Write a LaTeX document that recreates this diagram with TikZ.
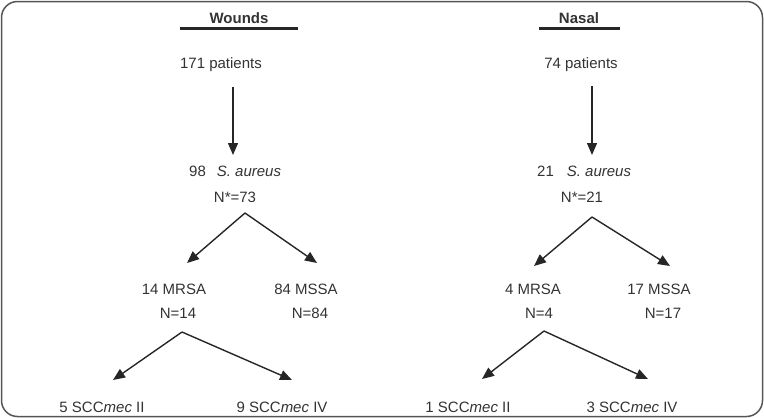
\documentclass[tikz,border=0pt]{standalone}
\usepackage{fontspec}
\setmainfont{Liberation Sans}
\usetikzlibrary{arrows.meta}
\definecolor{textgray}{HTML}{333333}
\definecolor{linegray}{HTML}{262626}
\definecolor{bordergray}{HTML}{555555}
\begin{document}
\begin{tikzpicture}[x=1pt,y=-1pt,
  txt/.style={anchor=base, inner sep=0pt, text=textgray, font=\fontsize{15}{18}\selectfont},
  ttl/.style={txt, font=\fontsize{15}{18}\selectfont\bfseries},
  uline/.style={draw=linegray, line width=3pt},
  arr/.style={draw=linegray, line width=1.4pt, -{Triangle[length=12pt,width=10pt]}}]
\useasboundingbox (0,0) rectangle (764,418);
\draw[bordergray, line width=1.5pt, rounded corners=16pt] (1.5,1.5) rectangle (762.5,416.5);

% ---- Wounds ----
\node[ttl] (wt) at (239,23.5) {Wounds};
\coordinate (wul) at (180,28); \coordinate (wur) at (298,28);
\draw[uline] (wul) -- (wur);
\node[txt] (wp) at (221,68) {171 patients};
\coordinate (wv1) at (233,87); \coordinate (wv2) at (233,155);
\draw[arr] (wv1) -- (wv2);
\node[txt, anchor=base west] (wsa) at (189,176) {98\hspace{11pt}\textit{S. aureus}};
\node[txt] (wn) at (235,202) {N*=73};
\coordinate (wa1) at (245,213);
\coordinate (wl1) at (187,263); \coordinate (wr1) at (317,263);
\draw[arr] (wa1) -- (wl1);
\draw[arr] (wa1) -- (wr1);
\node[txt] (wmr) at (174,294) {14 MRSA};
\node[txt] (wms) at (306,294) {84 MSSA};
\node[txt] (wmrn) at (178,318) {N=14};
\node[txt] (wmsn) at (310,318) {N=84};
\coordinate (wa2) at (182,332);
\coordinate (wl2) at (113,380); \coordinate (wr2) at (292,380);
\draw[arr] (wa2) -- (wl2);
\draw[arr] (wa2) -- (wr2);
\node[txt] (wc2) at (102,412) {5 SCC\textit{mec} II};
\node[txt] (wc4) at (282,412) {9 SCC\textit{mec} IV};

% ---- Nasal ----
\node[ttl] (nt) at (579,23.5) {Nasal};
\coordinate (nul) at (539,28); \coordinate (nur) at (620,28);
\draw[uline] (nul) -- (nur);
\node[txt] (np) at (581,68) {74 patients};
\coordinate (nv1) at (592,86); \coordinate (nv2) at (592,155);
\draw[arr] (nv1) -- (nv2);
\node[txt, anchor=base west] (nsa) at (537,176) {21\hspace{13pt}\textit{S. aureus}};
\node[txt] (nn) at (582,202) {N*=21};
\coordinate (na1) at (592,217);
\coordinate (nl1) at (534,266); \coordinate (nr1) at (670,266);
\draw[arr] (na1) -- (nl1);
\draw[arr] (na1) -- (nr1);
\node[txt] (nmr) at (533,294) {4 MRSA};
\node[txt] (nms) at (659,294) {17 MSSA};
\node[txt] (nmrn) at (539,318) {N=4};
\node[txt] (nmsn) at (663,318) {N=17};
\coordinate (na2) at (544,331);
\coordinate (nl2) at (482,379); \coordinate (nr2) at (648,379);
\draw[arr] (na2) -- (nl2);
\draw[arr] (na2) -- (nr2);
\node[txt] (nc2) at (468,412) {1 SCC\textit{mec} II};
\node[txt] (nc4) at (632,412) {3 SCC\textit{mec} IV};
\end{tikzpicture}
\end{document}
